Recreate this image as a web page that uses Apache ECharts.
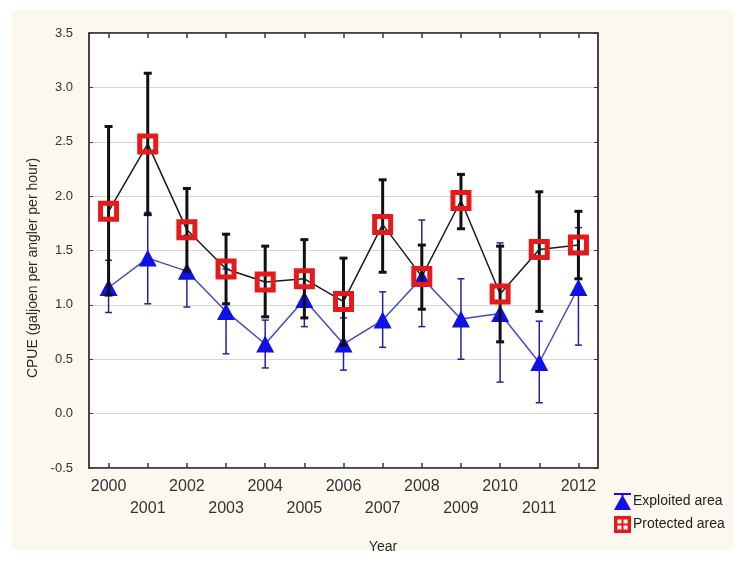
<!DOCTYPE html>
<html>
<head>
<meta charset="utf-8">
<script src="https://cdn.jsdelivr.net/npm/echarts@6/dist/echarts.min.js"></script>
<style>
html,body{margin:0;padding:0;background:#ffffff;}
#chart{width:742px;height:561px;}
</style>
</head>
<body>
<div id="chart"></div>
<script>
const years = ['2000','2001','2002','2003','2004','2005','2006','2007','2008','2009','2010','2011','2012'];
const exploitedMean = [1.16, 1.43, 1.31, 0.94, 0.64, 1.05, 0.64, 0.86, 1.25, 0.87, 0.92, 0.47, 1.16];
const exploitedLow  = [0.93, 1.01, 0.98, 0.55, 0.42, 0.80, 0.40, 0.61, 0.80, 0.50, 0.29, 0.10, 0.63];
const exploitedHigh = [1.41, 1.85, 1.64, 1.33, 0.86, 1.30, 0.88, 1.12, 1.78, 1.24, 1.57, 0.85, 1.71];
const protectedMean = [1.86, 2.48, 1.69, 1.33, 1.21, 1.24, 1.03, 1.74, 1.26, 1.96, 1.10, 1.51, 1.55];
const protectedLow  = [1.09, 1.83, 1.31, 1.01, 0.89, 0.88, 0.63, 1.30, 0.96, 1.70, 0.66, 0.94, 1.24];
const protectedHigh = [2.64, 3.13, 2.07, 1.65, 1.54, 1.60, 1.43, 2.15, 1.55, 2.20, 1.54, 2.04, 1.86];
const yTicks = [-0.5, 0.0, 0.5, 1.0, 1.5, 2.0, 2.5, 3.0, 3.5];

function barData(lo, hi){ return lo.map((v,i)=>[i, v, hi[i]]); }
function errRender(color, width, capHalf){
  return function(params, api){
    const x = api.value(0);
    const a = api.coord([x, api.value(1)]);
    const b = api.coord([x, api.value(2)]);
    const st = {stroke: color, lineWidth: width};
    return {type:'group', children:[
      {type:'line', shape:{x1:a[0],y1:a[1],x2:b[0],y2:b[1]}, style:st},
      {type:'line', shape:{x1:a[0]-capHalf,y1:a[1],x2:a[0]+capHalf,y2:a[1]}, style:st},
      {type:'line', shape:{x1:b[0]-capHalf,y1:b[1],x2:b[0]+capHalf,y2:b[1]}, style:st}
    ]};
  };
}

const chart = echarts.init(document.getElementById('chart'), null, {renderer:'canvas'});
const frame = '#3a3a3a';
const yMin = yTicks[0], yMax = yTicks[yTicks.length-1];
chart.setOption({
  backgroundColor: '#ffffff',
  animation: false,
  graphic: [
    {type:'rect', z:-10, shape:{x:12,y:10,width:721,height:540}, style:{fill:'#fdf8ef'}},
    {type:'text', x:33, y:268, rotation:Math.PI/2, style:{text:'CPUE (galjoen per angler per hour)', font:'14px "Liberation Sans", Arial, sans-serif', fill:'#2a2a2a', align:'center', verticalAlign:'middle'}},
    {type:'text', x:383, y:547, style:{text:'Year', font:'14px "Liberation Sans", Arial, sans-serif', fill:'#2a2a2a', align:'center', verticalAlign:'middle'}}
  ],
  grid: {left:89, top:33, right:144, bottom:93, show:true, backgroundColor:'#ffffff', borderColor:frame, borderWidth:1.5},
  legend: {
    orient:'vertical', left:609, top:488, itemWidth:17, itemHeight:17, itemGap:6,
    textStyle:{fontSize:14, color:'#222', fontFamily:'"Liberation Sans", Arial, sans-serif', padding:[0,0,0,-3]},
    data:[
      {name:'Exploited area', icon:'path://M0,0H10V1.2H5.6V2L10,10H0L4.4,2V1.2H0Z', itemStyle:{color:'#1010e8', borderWidth:0}},
      {name:'Protected area', icon:'path://M0,0H10V10H0Z M2,2V4.4H4.4V2Z M5.6,2V4.4H8V2Z M2,5.6V8H4.4V5.6Z M5.6,5.6V8H8V5.6Z', itemStyle:{color:'#e41a1c', borderWidth:0}}
    ]
  },
  xAxis: [
    {type:'category', data:years, position:'bottom',
     axisLine:{show:true, onZero:false, lineStyle:{color:frame, width:1.5}},
     axisTick:{show:true, inside:true, alignWithLabel:true, length:5, lineStyle:{color:frame, width:1.5}},
     axisLabel:{interval:0, margin:8, fontSize:16, lineHeight:22, color:'#333', fontFamily:'"Liberation Sans", Arial, sans-serif',
       formatter:(v,i)=> (i%2 ? '\n'+v : v)},
     splitLine:{show:false}},
    {type:'category', data:years, position:'top',
     axisLine:{show:true, onZero:false, lineStyle:{color:frame, width:1.5}},
     axisTick:{show:true, inside:true, alignWithLabel:true, length:5, lineStyle:{color:frame, width:1.5}},
     axisLabel:{show:false}, splitLine:{show:false}}
  ],
  yAxis: [
    {type:'value', min:yMin, max:yMax, interval:0.5, position:'left',
     axisLine:{show:true, onZero:false, lineStyle:{color:frame, width:1.5}},
     axisTick:{show:true, inside:true, length:4, lineStyle:{color:frame}},
     axisLabel:{margin:16, fontSize:13, color:'#333', fontFamily:'"Liberation Sans", Arial, sans-serif', formatter:v=>v.toFixed(1)},
     splitLine:{show:true, lineStyle:{color:'#d6d6d6', width:1}}},
    {type:'value', min:yMin, max:yMax, interval:0.5, position:'right',
     axisLine:{show:true, onZero:false, lineStyle:{color:frame, width:1.5}},
     axisTick:{show:true, inside:true, length:4, lineStyle:{color:frame}},
     axisLabel:{show:false}, splitLine:{show:false}}
  ],
  series: [
    {type:'custom', name:'exErr', renderItem:errRender('#22229c', 1.5, 3.5), data:barData(exploitedLow, exploitedHigh), encode:{x:0,y:[1,2]}, silent:true, z:2},
    {type:'line', name:'Exploited area', data:exploitedMean, symbol:'triangle', symbolSize:[18,17],
     itemStyle:{color:'#1010e8', borderWidth:0}, lineStyle:{color:'#4848c4', width:1.5}, z:3},
    {type:'custom', name:'prErr', renderItem:errRender('#111111', 3, 4), data:barData(protectedLow, protectedHigh), encode:{x:0,y:[1,2]}, silent:true, z:4},
    {type:'line', name:'Protected area', data:protectedMean, symbol:'rect', symbolSize:16,
     itemStyle:{color:'rgba(255,255,255,0)', borderColor:'#e41a1c', borderWidth:5}, lineStyle:{color:'#1a1a1a', width:1.5}, z:5}
  ]
});
</script>
</body>
</html>
